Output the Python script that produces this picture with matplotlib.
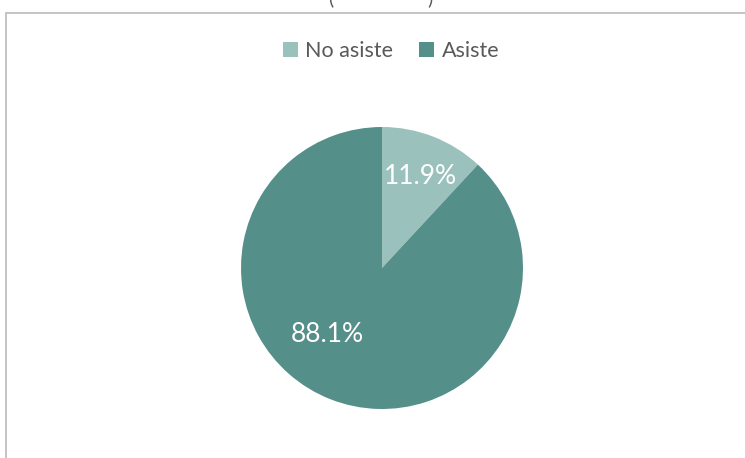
import matplotlib.pyplot as plt
from matplotlib.patches import Rectangle

labels = ["No asiste", "Asiste"]
values = [11.9, 88.1]
colors = ["#9BC1BC", "#558F8A"]
# where each percentage sits, as (dx, dy) from the centre in radius units
label_offsets = [(0.27, 0.65), (-0.39, -0.47)]

W, H = 745, 458
fig = plt.figure(figsize=(W / 100, H / 100), dpi=100)
ax = fig.add_axes([0, 0, 1, 1])

cx, cy, r = 382, H - 268, 141
wedges, _ = ax.pie(values, colors=colors, startangle=90, counterclock=False,
                   center=(cx, cy), radius=r, frame=True,
                   wedgeprops=dict(linewidth=0))
ax.set_xlim(0, W)
ax.set_ylim(0, H)
ax.set_aspect("equal")
ax.axis("off")

for v, (dx, dy) in zip(values, label_offsets):
    ax.text(cx + dx * r, cy + dy * r, f"{v:.1f}%", color="white",
            fontsize=19, family="Lato", ha="center", va="center")

# chart frame (cropped on right and bottom)
fig.patches.append(Rectangle((6.5 / W, -0.1), 1.2, 1 - 12.5 / H + 0.1,
                             transform=fig.transFigure, fill=False,
                             edgecolor="#BFBFBF", linewidth=1.3))

# cut-off title parentheses
fig.text(331 / W, 1 - 4 / H, "(", fontsize=14, color="#595959",
         family="Lato", ha="center", va="baseline")
fig.text(430 / W, 1 - 4 / H, ")", fontsize=14, color="#595959",
         family="Lato", ha="center", va="baseline")

leg = fig.legend(wedges, labels, loc="center", bbox_to_anchor=(391 / W, 1 - 51 / H),
                 ncol=2, frameon=False, handlelength=0.7,
                 handleheight=0.7, handletextpad=0.35, columnspacing=1.2,
                 prop={"family": "Lato", "size": 15.5})
for t in leg.get_texts():
    t.set_color("#595959")

fig.savefig("out.png", dpi=100)
